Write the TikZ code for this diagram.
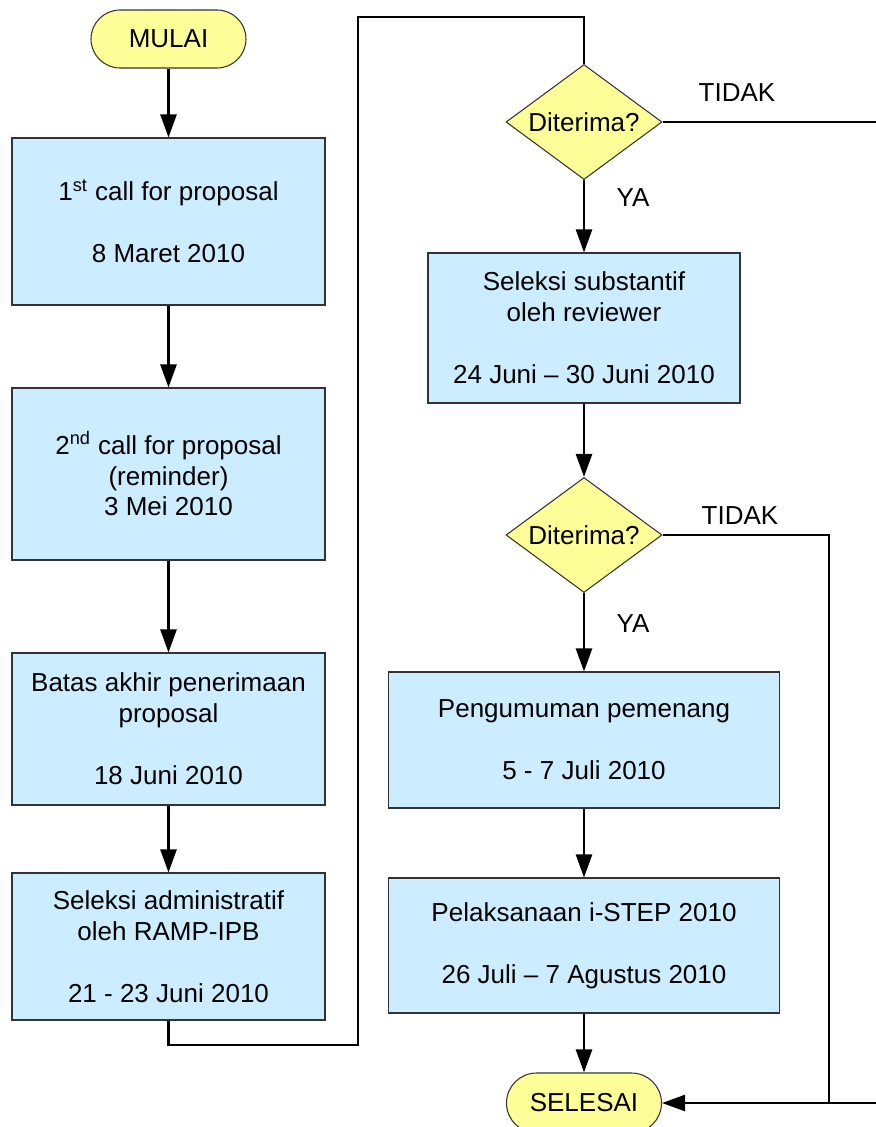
\documentclass[tikz,border=0pt]{standalone}
\usepackage{fontspec}
\setmainfont{Liberation Sans}
\usetikzlibrary{shapes.geometric}
\usetikzlibrary{arrows.meta}

\definecolor{termyellow}{HTML}{FFFF99}
\definecolor{boxblue}{HTML}{CCECFF}

\begin{document}
\begin{tikzpicture}[
  every node/.style={font=\fontsize{14.8}{17.6}\selectfont},
  terminal/.style={rectangle, rounded corners=.58cm, draw=black!80, line width=.6pt, fill=termyellow, minimum width=3.1cm, minimum height=1.16cm},
  stepbox/.style={rectangle, draw=black!80, line width=.6pt, fill=boxblue, align=center, minimum width=6.26cm},
  widebox/.style={stepbox, minimum width=7.82cm},
  decision/.style={diamond, draw=black!80, line width=.6pt, fill=termyellow, inner sep=0pt, aspect=1.36, minimum width=3.12cm, minimum height=2.3cm},
  flow/.style={-{Triangle[length=.46cm,width=.32cm]}, line width=.05cm},
  thinline/.style={line width=.8pt}
]
\useasboundingbox (0,0) rectangle (17.52cm,-22.54cm);

% left column
\node (mulai) at (3.37cm,-.78cm) [terminal] {MULAI};
\node (call1) at (3.37cm,-4.43cm) [stepbox, minimum height=3.34cm] {1\textsuperscript{st} call for proposal\\[.62cm]8 Maret 2010};
\node (call2) at (3.37cm,-9.48cm) [stepbox, minimum height=3.44cm] {2\textsuperscript{nd} call for proposal\\(reminder)\\3 Mei 2010};
\node (batas) at (3.37cm,-14.58cm) [stepbox, minimum height=3.04cm] {Batas akhir penerimaan\\proposal\\[.62cm]18 Juni 2010};
\node (adm) at (3.37cm,-18.93cm) [stepbox, minimum height=2.94cm] {Seleksi administratif\\oleh RAMP-IPB\\[.62cm]21 - 23 Juni 2010};

\draw [flow] (mulai) -- (call1);
\draw [flow] (call1) -- (call2);
\draw [flow] (call2) -- (batas);
\draw [flow] (batas) -- (adm);

% right column
\node (dec1) at (11.68cm,-2.44cm) [decision] {Diterima?};
\node (subst) at (11.68cm,-6.56cm) [stepbox, minimum width=6.24cm, minimum height=3cm] {Seleksi substantif\\oleh reviewer\\[.62cm]24 Juni – 30 Juni 2010};
\node (dec2) at (11.68cm,-10.7cm) [decision] {Diterima?};
\node (umum) at (11.68cm,-14.8cm) [widebox, minimum height=2.72cm] {Pengumuman pemenang\\[.62cm]5 - 7 Juli 2010};
\node (laksana) at (11.68cm,-18.91cm) [widebox, minimum height=2.7cm] {Pelaksanaan i-STEP 2010\\[.62cm]26 Juli – 7 Agustus 2010};
\node (selesai) at (11.68cm,-22.06cm) [terminal, minimum height=1.2cm, rounded corners=.6cm] {SELESAI};

\node (tidak1) at (14.74cm,-1.86cm) {TIDAK};
\node (ya1) at (12.66cm,-3.96cm) {YA};
\node (tidak2) at (14.8cm,-10.32cm) {TIDAK};
\node (ya2) at (12.66cm,-12.48cm) {YA};

% from left column over the top
\coordinate (bottomturn) at (7.16cm,-20.9cm);
\coordinate (topturn) at (7.16cm,-.34cm);
\draw [line width=.05cm] (adm.south) |- (bottomturn) -- (topturn) -| (dec1.north);

\coordinate (rightedge1) at (17.52cm,-2.44cm);
\draw [line width=.05cm] (dec1.east) -- (rightedge1);

\draw [flow] (dec1) -- (subst);
\draw [flow] (subst) -- (dec2);
\draw [flow] (dec2) -- (umum);
\draw [flow] (umum) -- (laksana);
\draw [flow] (laksana) -- (selesai);

\coordinate (loopturn) at (16.58cm,-22.06cm);
\draw [thinline] (dec2.east) -| (loopturn);
\coordinate (rightedge2) at (17.52cm,-22.06cm);
\draw [flow] (rightedge2) -- (selesai.east);

\end{tikzpicture}
\end{document}
